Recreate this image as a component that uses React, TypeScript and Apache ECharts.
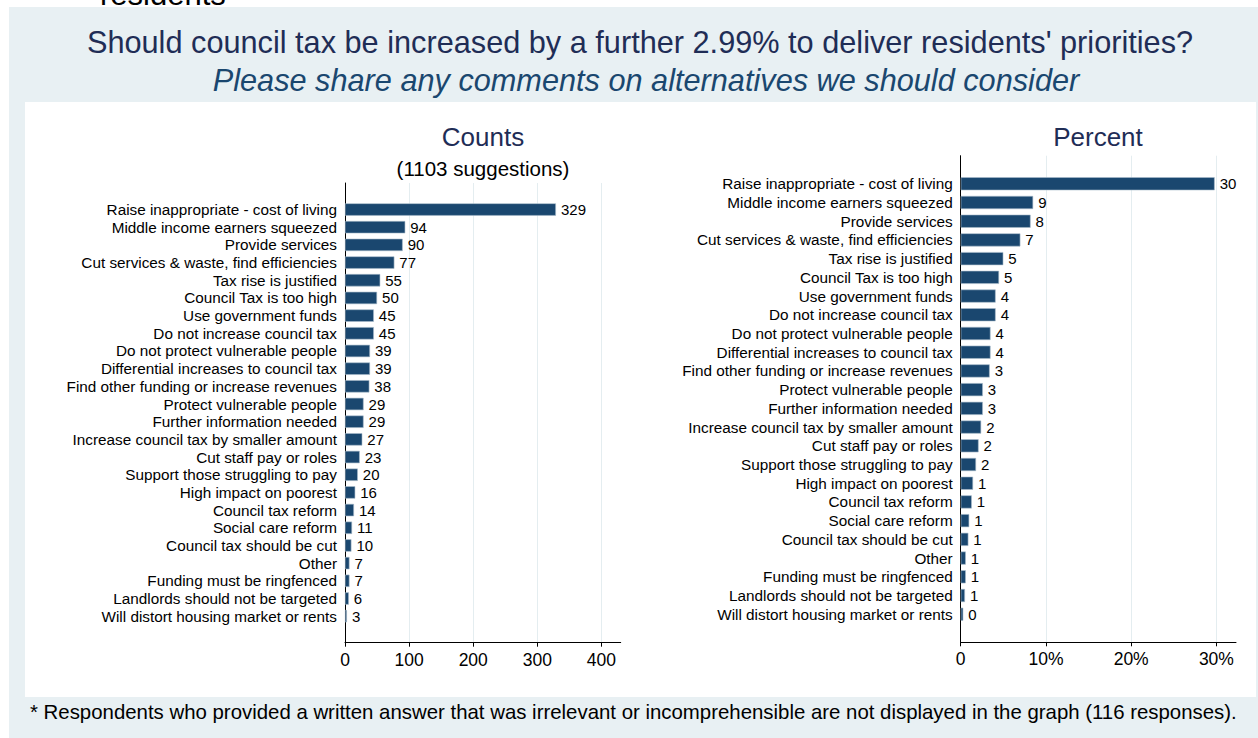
import React, { useEffect, useRef } from "react";
import * as echarts from "echarts";

const categories = [
  "Raise inappropriate - cost of living",
  "Middle income earners squeezed",
  "Provide services",
  "Cut services & waste, find efficiencies",
  "Tax rise is justified",
  "Council Tax is too high",
  "Use government funds",
  "Do not increase council tax",
  "Do not protect vulnerable people",
  "Differential increases to council tax",
  "Find other funding or increase revenues",
  "Protect vulnerable people",
  "Further information needed",
  "Increase council tax by smaller amount",
  "Cut staff pay or roles",
  "Support those struggling to pay",
  "High impact on poorest",
  "Council tax reform",
  "Social care reform",
  "Council tax should be cut",
  "Other",
  "Funding must be ringfenced",
  "Landlords should not be targeted",
  "Will distort housing market or rents",
];

const counts = [329, 94, 90, 77, 55, 50, 45, 45, 39, 39, 38, 29, 29, 27, 23, 20, 16, 14, 11, 10, 7, 7, 6, 3];
const percents = [29.8, 8.5, 8.2, 7.0, 5.0, 4.5, 4.1, 4.1, 3.5, 3.5, 3.4, 2.6, 2.6, 2.4, 2.1, 1.8, 1.45, 1.3, 1.0, 0.9, 0.6, 0.6, 0.5, 0.3];
const percentLabels = [30, 9, 8, 7, 5, 5, 4, 4, 4, 4, 3, 3, 3, 2, 2, 2, 1, 1, 1, 1, 1, 1, 1, 0];

const countTicks = [0, 100, 200, 300, 400];
const percentTicks = [0, 10, 20, 30];

const titleText = "Should council tax be increased by a further 2.99% to deliver residents' priorities?";
const subtitleText = "Please share any comments on alternatives we should consider";
const footnoteText =
  "* Respondents who provided a written answer that was irrelevant or incomprehensible are not displayed in the graph (116 responses).";

const FONT = "'Liberation Sans', Arial, Helvetica, sans-serif";
const NAVY = "#1a476f";
const TITLE_COLOR = "#1f2d56";
const BG = "#e8f0f3";
const GRID = "#e4edf0";

export default function App() {
  const ref = useRef<HTMLDivElement>(null);

  useEffect(() => {
    document.body.style.margin = "0";
    const chart = echarts.init(ref.current!, null, { renderer: "svg" });

    const padCats = ["", ...categories, ""];
    const padCounts: (number | null)[] = [null, ...counts, null];
    const padPercents: (number | null)[] = [null, ...percents, null];

    const yAxisCommon = {
      type: "category" as const,
      inverse: true,
      data: padCats,
      axisLine: { show: true, lineStyle: { color: "#000", width: 1 } },
      axisTick: { show: false },
      axisLabel: { color: "#000", fontSize: 15.3, fontFamily: FONT, margin: 8, interval: 0 },
      splitLine: { show: false },
    };

    const xAxisCommon = {
      type: "value" as const,
      min: 0,
      axisLine: { show: true, onZero: false, lineStyle: { color: "#000", width: 1 } },
      axisTick: { show: true, length: 4, lineStyle: { color: "#000" } },
      splitLine: { show: true, lineStyle: { color: GRID, width: 1 } },
    };

    const barCommon = {
      type: "bar" as const,
      barCategoryGap: "30%",
      itemStyle: { color: NAVY, borderColor: "#a9bccb", borderWidth: 0.6 },
      label: {
        show: true,
        position: "right" as const,
        distance: 5,
        color: "#000",
        fontSize: 15,
        fontFamily: FONT,
      },
    };

    chart.setOption({
      animation: false,
      backgroundColor: "#ffffff",
      textStyle: { fontFamily: FONT },
      grid: [
        { left: 345, right: 1258 - 620.7, top: 183, bottom: 738 - 642.7, containLabel: false },
        { left: 960.7, right: 22, top: 155.7, bottom: 738 - 642.3, containLabel: false },
      ],
      xAxis: [
        {
          ...xAxisCommon,
          gridIndex: 0,
          max: 430,
          axisTick: { ...xAxisCommon.axisTick, customValues: countTicks },
          axisLabel: {
            customValues: countTicks,
            color: "#000",
            fontSize: 17.5,
            fontFamily: FONT,
            margin: 8,
          },
        },
        {
          ...xAxisCommon,
          gridIndex: 1,
          max: 32.3,
          axisTick: { ...xAxisCommon.axisTick, customValues: percentTicks },
          axisLabel: {
            customValues: percentTicks,
            color: "#000",
            fontSize: 17.5,
            fontFamily: FONT,
            margin: 8,
            formatter: (v: number) => (v === 0 ? "0" : v + "%"),
          },
        },
      ],
      yAxis: [
        { ...yAxisCommon, gridIndex: 0 },
        { ...yAxisCommon, gridIndex: 1 },
      ],
      series: [
        {
          ...barCommon,
          xAxisIndex: 0,
          yAxisIndex: 0,
          data: padCounts,
        },
        {
          ...barCommon,
          xAxisIndex: 1,
          yAxisIndex: 1,
          data: padPercents,
          label: {
            ...barCommon.label,
            formatter: (p: any) => String(percentLabels[p.dataIndex - 1]),
          },
        },
      ],
      graphic: [
        { type: "rect", z: -10, silent: true, shape: { x: 9, y: 7, width: 1249, height: 731 }, style: { fill: BG } },
        { type: "rect", z: -9, silent: true, shape: { x: 25, y: 102, width: 1231, height: 595 }, style: { fill: "#ffffff" } },
        {
          type: "text",
          z: -11,
          x: 100,
          y: 10,
          style: { text: "residents", fill: "#000", font: `31px ${FONT}`, textVerticalAlign: "bottom" },
        },
        {
          type: "text",
          z: 10,
          x: 640,
          y: 42,
          style: { text: titleText, fill: TITLE_COLOR, font: `30.7px ${FONT}`, textAlign: "center", textVerticalAlign: "middle" },
        },
        {
          type: "text",
          z: 10,
          x: 646,
          y: 80,
          style: { text: subtitleText, fill: NAVY, font: `italic 30.7px ${FONT}`, textAlign: "center", textVerticalAlign: "middle" },
        },
        {
          type: "text",
          z: 10,
          x: 483,
          y: 137,
          style: { text: "Counts", fill: TITLE_COLOR, font: `26px ${FONT}`, textAlign: "center", textVerticalAlign: "middle" },
        },
        {
          type: "text",
          z: 10,
          x: 483,
          y: 168,
          style: { text: "(1103 suggestions)", fill: "#000", font: `20.5px ${FONT}`, textAlign: "center", textVerticalAlign: "middle" },
        },
        {
          type: "text",
          z: 10,
          x: 1098,
          y: 137,
          style: { text: "Percent", fill: TITLE_COLOR, font: `26px ${FONT}`, textAlign: "center", textVerticalAlign: "middle" },
        },
        {
          type: "text",
          z: 10,
          x: 30,
          y: 712,
          style: { text: footnoteText, fill: "#000", font: `20.4px ${FONT}`, textAlign: "left", textVerticalAlign: "middle" },
        },
      ],
    });

    return () => chart.dispose();
  }, []);

  return <div ref={ref} style={{ position: "absolute", left: 0, top: 0, width: 1258, height: 738 }} />;
}
